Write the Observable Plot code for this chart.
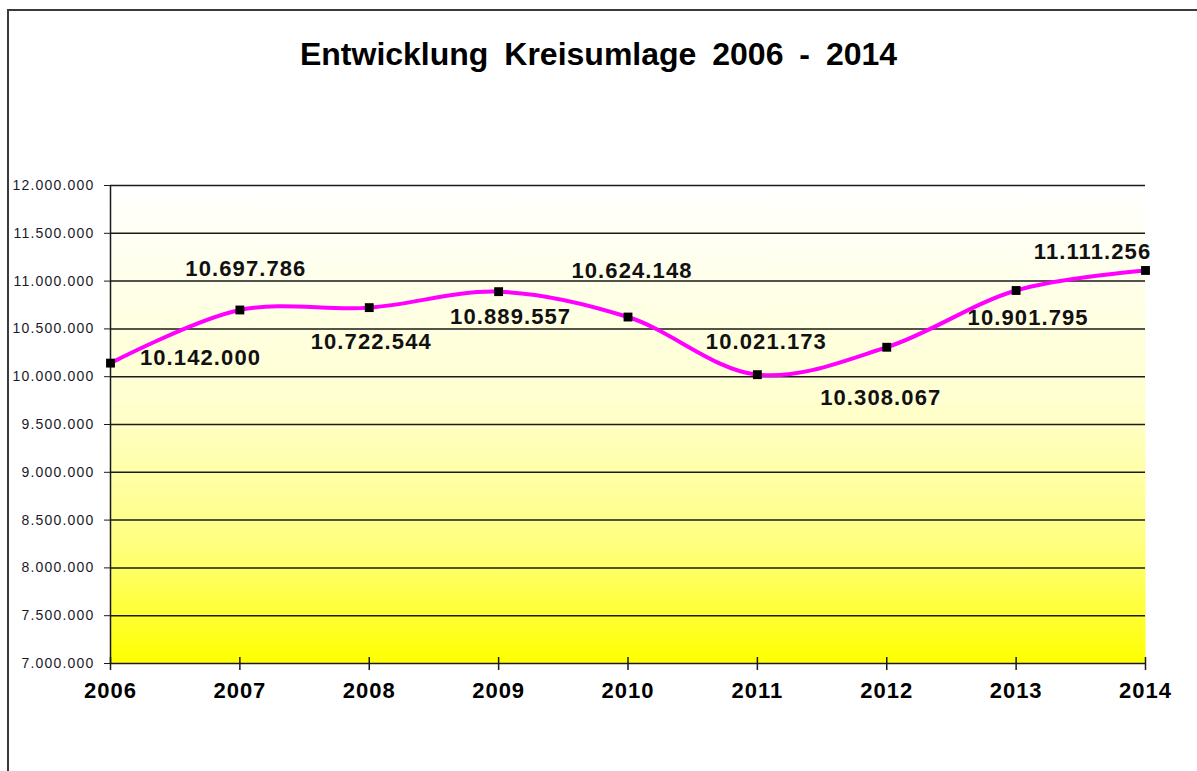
<!DOCTYPE html>
<html>
<head>
<meta charset="utf-8">
<script src="https://cdn.jsdelivr.net/npm/d3@7"></script>
<script src="https://cdn.jsdelivr.net/npm/@observablehq/plot@0.6"></script>
<style>
  html, body { margin: 0; padding: 0; background: #fff; }
  body { width: 1197px; height: 771px; position: relative; overflow: hidden; font-family: "Liberation Sans", Arial, sans-serif; }
  #frame { position: absolute; left: 7px; top: 9px; width: 1300px; height: 900px; border: 2px solid #3a3a3a; box-sizing: border-box; }
  #title { position: absolute; left: 0; top: 34px; width: 1197px; text-align: center; font-size: 32px; line-height: 40px; font-weight: bold; color: #000; word-spacing: 7px; }
  #chart { position: absolute; left: 0; top: 110px; }
  #chart g[aria-label="y-axis tick label"] text { letter-spacing: 1.2px; }
  #chart g[aria-label="x-axis tick label"] text { letter-spacing: 1px; }
  #chart g[aria-label="text"] text { letter-spacing: 1.1px; }
</style>
</head>
<body>
<svg width="0" height="0" style="position:absolute">
  <defs>
    <linearGradient id="bg" x1="0" y1="0" x2="0" y2="1">
      <stop offset="0%" stop-color="#ffffff"/>
      <stop offset="45%" stop-color="#ffffd0"/>
      <stop offset="75%" stop-color="#ffff80"/>
      <stop offset="100%" stop-color="#ffff00"/>
    </linearGradient>
  </defs>
</svg>
<div id="frame"></div>
<div id="title">Entwicklung Kreisumlage 2006 - 2014</div>
<div id="chart"></div>
<script>
// Data
const years = [2006, 2007, 2008, 2009, 2010, 2011, 2012, 2013, 2014];
const values = [10142000, 10697786, 10722544, 10889557, 10624148, 10021173, 10308067, 10901795, 11111256];
const yTicks = [7000000, 7500000, 8000000, 8500000, 9000000, 9500000, 10000000, 10500000, 11000000, 11500000, 12000000];

const de = d3.formatLocale({decimal: ",", thousands: ".", grouping: [3], currency: ["", " €"]});
const fmt = de.format(",d");

const data = years.map((year, i) => ({year, value: values[i], label: fmt(values[i])}));

// label placement offsets (layout, in px) per point
const labelOffsets = [
  [90, -5], [6, -41], [2, 34], [12, 25], [4, -46], [9, -33], [-6, 51], [12, 27], [-53, -19]
];

const labelMarks = labelOffsets.map(([dx, dy], i) =>
  Plot.text([data[i]], {
    x: "year", y: "value", text: "label", dx, dy,
    fontSize: 22, fontWeight: "bold", fill: "#111"
  })
);

const chart = Plot.plot({
  width: 1197,
  height: 661,
  marginTop: 75,
  marginBottom: 108,
  marginLeft: 110,
  marginRight: 52,
  style: {fontFamily: "'Liberation Sans', Arial, sans-serif", background: "transparent", overflow: "visible"},
  x: {domain: [2006, 2014]},
  y: {domain: [7000000, 12000000]},
  marks: [
    Plot.frame({fill: "url(#bg)", stroke: null}),
    Plot.ruleY(yTicks, {stroke: "#1a1a1a", strokeWidth: 1.5}),
    Plot.ruleX([2006], {stroke: "#1a1a1a", strokeWidth: 1.5}),
    Plot.axisY(yTicks, {
      tickSize: 6, tickPadding: 10, tickFormat: fmt, fontSize: 14, label: null,
      stroke: "#1a1a1a", fill: "#1a1a2a"
    }),
    Plot.axisX(years, {tickSize: 13, dy: -6, tickFormat: () => "", label: null, stroke: "#1a1a1a", strokeWidth: 1.5}),
    Plot.axisX(years, {
      tickSize: 0, tickPadding: 19, tickFormat: d => String(d), label: null,
      fontSize: 22, fontWeight: "bold", fill: "#000"
    }),
    Plot.line(data, {x: "year", y: "value", stroke: "#ff00ff", strokeWidth: 4, curve: "catmull-rom"}),
    Plot.dot(data, {x: "year", y: "value", symbol: "square", r: 5, fill: "#000", stroke: null}),
    ...labelMarks
  ]
});
document.getElementById("chart").appendChild(chart);
</script>
</body>
</html>
